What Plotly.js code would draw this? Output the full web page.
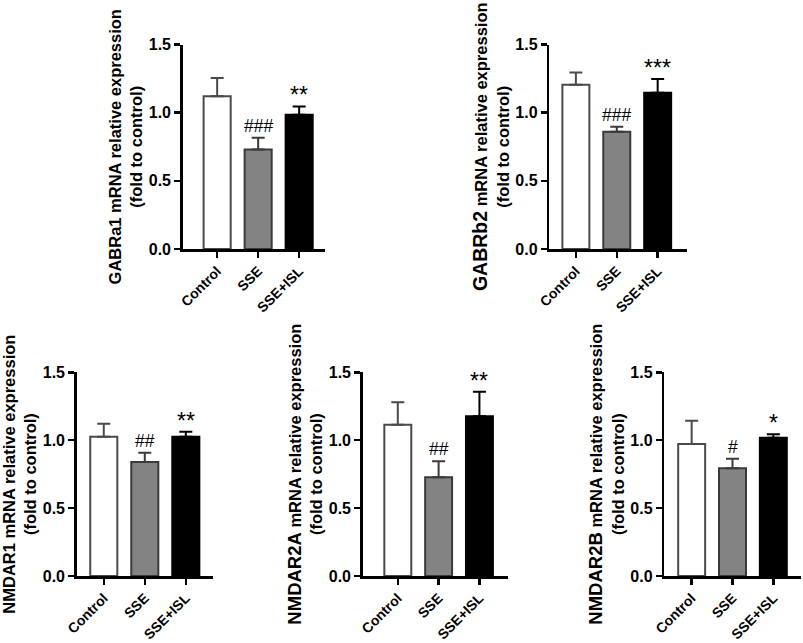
<!DOCTYPE html>
<html>
<head>
<meta charset="utf-8">
<script src="https://cdn.plot.ly/plotly-3.0.1.min.js"></script>
<style>html,body{margin:0;padding:0;background:#fff;}</style>
</head>
<body>
<div id="chart" style="width:803px;height:643px;"></div>
<script>
// ---- data ----
var categories = ["Control", "SSE", "SSE+ISL"];
var genes = ["GABRa1", "GABRb2", "NMDAR1", "NMDAR2A", "NMDAR2B"];
var gabra1Mean  = [1.12, 0.73, 0.985];
var gabra1Err   = [0.135, 0.086, 0.061];
var gabrb2Mean  = [1.205, 0.86, 1.147];
var gabrb2Err   = [0.09, 0.036, 0.10];
var nmdar1Mean  = [1.026, 0.839, 1.026];
var nmdar1Err   = [0.096, 0.069, 0.037];
var nmdar2aMean = [1.114, 0.727, 1.176];
var nmdar2aErr  = [0.165, 0.118, 0.181];
var nmdar2bMean = [0.972, 0.793, 1.018];
var nmdar2bErr  = [0.172, 0.071, 0.025];
var gabra1Sig   = ["", "###", "**"];
var gabrb2Sig   = ["", "###", "***"];
var nmdar1Sig   = ["", "##", "**"];
var nmdar2aSig  = ["", "##", "**"];
var nmdar2bSig  = ["", "#", "*"];
var yTickVals = [0, 0.5, 1.0, 1.5];
var yTickText = ["0.0", "0.5", "1.0", "1.5"];

var means = [gabra1Mean, gabrb2Mean, nmdar1Mean, nmdar2aMean, nmdar2bMean];
var errs  = [gabra1Err, gabrb2Err, nmdar1Err, nmdar2aErr, nmdar2bErr];
var sigs  = [gabra1Sig, gabrb2Sig, nmdar1Sig, nmdar2aSig, nmdar2bSig];

// ---- styling ----
var W = 803, H = 643;
var FONT = "Liberation Sans, Arial, Helvetica, sans-serif";
var fills = ["#ffffff", "#838383", "#000000"];
var edges = ["#4a4a4a", "#3a3a3a", "#000000"];
// panel pixel boxes: [left, right, top(1.5), bottom(0.0)]
var boxes = [
  [182.7, 325.0, 44.5, 249.0],
  [549.3, 686.7, 44.5, 249.0],
  [76.7, 213.3, 372.3, 576.0],
  [362.7, 508.0, 372.3, 576.0],
  [664.3, 800.7, 372.3, 576.0]
];
var xRanges = [[-0.84, 2.63], [-0.65, 2.71], [-0.66, 2.67], [-0.86, 2.70], [-0.67, 2.67]];
var geneSize = [16.5, 19.5, 16.5, 18.5, 18.5];

var traces = [];
var layout = {
  width: W, height: H,
  margin: {l: 0, r: 0, t: 0, b: 0},
  paper_bgcolor: "#ffffff",
  plot_bgcolor: "#ffffff",
  showlegend: false,
  barmode: "overlay",
  font: {family: FONT, color: "#000", weight: "bold"},
  annotations: []
};

for (var p = 0; p < genes.length; p++) {
  var n = p + 1;
  var xa = "x" + (n === 1 ? "" : n), ya = "y" + (n === 1 ? "" : n);
  var xKey = "xaxis" + (n === 1 ? "" : n), yKey = "yaxis" + (n === 1 ? "" : n);
  var b = boxes[p];
  for (var c = 0; c < categories.length; c++) {
    traces.push({
      type: "bar",
      x: [categories[c]],
      y: [means[p][c]],
      width: 0.66,
      xaxis: xa, yaxis: ya,
      marker: {color: fills[c], line: {color: edges[c], width: 2}},
      error_y: {type: "data", symmetric: false, array: [errs[p][c]], arrayminus: [0],
                color: edges[c], thickness: 2, width: 6.5},
      hoverinfo: "x+y"
    });
    if (sigs[p][c]) {
      var isStar = sigs[p][c].indexOf("*") >= 0;
      layout.annotations.push({
        xref: xa, yref: ya,
        x: categories[c], y: means[p][c] + errs[p][c],
        text: sigs[p][c], showarrow: false,
        yanchor: "bottom", yshift: isStar ? -4 : 0,
        font: {family: FONT, size: isStar ? 23 : 17.5, weight: "normal", color: "#000"}
      });
    }
  }
  layout[xKey] = {
    domain: [b[0] / W, b[1] / W],
    anchor: ya,
    type: "category",
    categoryorder: "array", categoryarray: categories,
    range: xRanges[p],
    showline: true, linecolor: "#000", linewidth: 2.5,
    ticks: "outside", ticklen: 6, tickwidth: 2.5, tickcolor: "#000",
    tickangle: -45,
    tickfont: {family: FONT, size: 14, weight: "bold", color: "#000"},
    showgrid: false, zeroline: false, automargin: false, fixedrange: true
  };
  layout[yKey] = {
    domain: [1 - b[3] / H, 1 - b[2] / H],
    anchor: xa,
    range: [0, 1.5],
    tickvals: yTickVals, ticktext: yTickText,
    showline: true, linecolor: "#000", linewidth: 2.5,
    ticks: "outside", ticklen: 6, tickwidth: 2.5, tickcolor: "#000",
    tickfont: {family: FONT, size: 16, weight: "bold", color: "#000"},
    showgrid: false, zeroline: false, automargin: false, fixedrange: true,
    title: {
      text: '<span style="font-size:' + geneSize[p] + 'px">' + genes[p] + '</span> mRNA relative expression<br>(fold to control)',
      font: {family: FONT, size: 16.5, weight: "bold", color: "#000"},
      standoff: 2
    }
  };
}

Plotly.newPlot("chart", traces, layout, {displayModeBar: false, staticPlot: true});
</script>
</body>
</html>
